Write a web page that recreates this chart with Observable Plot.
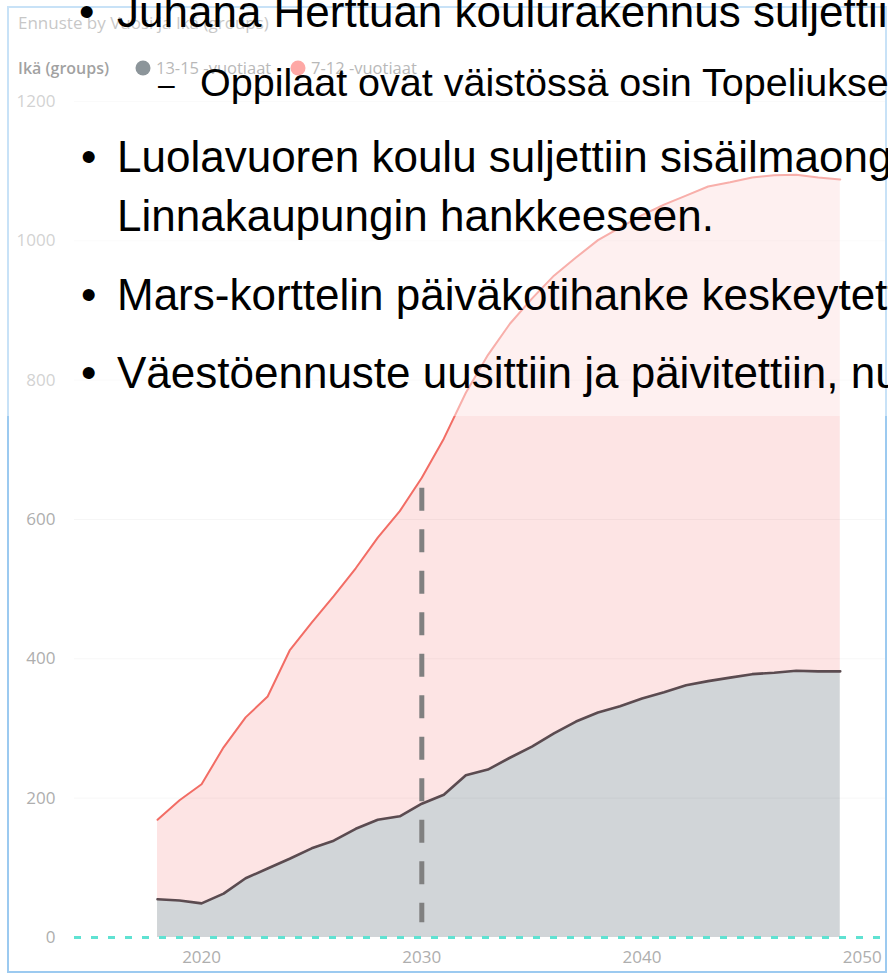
<!DOCTYPE html>
<html>
<head>
<meta charset="utf-8">
<script src="https://cdn.jsdelivr.net/npm/d3@7"></script>
<script src="https://cdn.jsdelivr.net/npm/@observablehq/plot@0.6"></script>
<style>
  html, body { margin: 0; padding: 0; background: #fff; }
  body { width: 888px; height: 976px; overflow: hidden; position: relative; }
  #chart { position: absolute; left: 0; top: 0; }
  #chart svg text { fill: #aeaeae; }
  #overlay { position: absolute; left: 0; top: 0; pointer-events: none; }
  .pbi { font-family: "Open Sans", "Segoe UI", sans-serif; }
  .slide { font-family: "Liberation Sans", Arial, sans-serif; fill: #000; }
</style>
</head>
<body>
<div id="chart"></div>
<svg id="overlay" width="888" height="976" viewBox="0 0 888 976">
  <rect x="8" y="7" width="878" height="965" fill="none" stroke="#9ccaf0" stroke-width="2"></rect>
  <text class="pbi" x="18" y="29" font-size="17" fill="#9a9a9a">Ennuste by Vuosi ja Ikä (groups)</text>
  <text class="pbi" x="18" y="74" font-size="16" font-weight="600" fill="#555">Ikä (groups)</text>
  <circle cx="143" cy="68" r="7.5" fill="#2e3e47"></circle>
  <text class="pbi" x="156" y="74" font-size="16.5" fill="#7e7e7e">13-15 -vuotiaat</text>
  <circle cx="298" cy="68" r="7.5" fill="#fd615b"></circle>
  <text class="pbi" x="311" y="74" font-size="16.5" fill="#7e7e7e">7-12 -vuotiaat</text>
  <rect x="0" y="0" width="888" height="416" fill="#fff" fill-opacity="0.45"></rect>
  <g class="slide">
    <text x="79" y="27" font-size="44">•</text>
    <text x="117" y="27" font-size="44">Juhana Herttuan koulurakennus suljettiin</text>
    <text x="158" y="95" font-size="30">–</text>
    <text x="200" y="96" font-size="39.5">Oppilaat ovat väistössä osin Topeliuksen</text>
    <text x="81" y="172" font-size="44">•</text>
    <text x="117" y="172" font-size="44">Luolavuoren koulu suljettiin sisäilmaongelmien</text>
    <text x="117" y="231" font-size="44">Linnakaupungin hankkeeseen.</text>
    <text x="81" y="310" font-size="44">•</text>
    <text x="117" y="310" font-size="44">Mars-korttelin päiväkotihanke keskeytettiin</text>
    <text x="81" y="388" font-size="44">•</text>
    <text x="117" y="388" font-size="44">Väestöennuste uusittiin ja päivitettiin, nu</text>
  </g>
</svg>
<script>
// ---- data ----
const years = [2018, 2019, 2020, 2021, 2022, 2023, 2024, 2025, 2026, 2027, 2028, 2029, 2030, 2031, 2032, 2033,
               2034, 2035, 2036, 2037, 2038, 2039, 2040, 2041, 2042, 2043, 2044, 2045, 2046, 2047, 2048, 2049];
// 13-15 -vuotiaat (bottom series)
const age13_15 = [55, 53, 49, 63, 85, 99, 113, 128, 139, 156, 169, 174, 192, 205, 233, 241,
                  258, 274, 293, 310, 323, 332, 343, 352, 362, 368, 373, 378, 380, 383, 382, 382];
// 7-12 -vuotiaat (stacked on top)
const age7_12 = [114, 144, 171, 210, 231, 247, 299, 324, 351, 374, 405, 438, 468, 511, 549, 595,
                 623, 643, 657, 666, 678, 687, 694, 700, 703, 710, 711, 713, 714, 712, 709, 706];
const groups = ["13-15 -vuotiaat", "7-12 -vuotiaat"];
const yTicks = [0, 200, 400, 600, 800, 1000, 1200];
const xTicks = [2020, 2030, 2040, 2050];
const markerYear = [2030];          // dashed vertical marker
const markerSpan = [21, 645];       // its extent in y units
const baseline = [0];               // dotted zero line

const table = years.map((year, i) => ({year, g: age13_15[i], p: age7_12[i]}));

const chart = Plot.plot({
  width: 888,
  height: 976,
  marginLeft: 74,
  marginRight: 2,
  marginTop: 101,
  marginBottom: 39,
  style: {background: "transparent", fontFamily: "'Open Sans', 'Segoe UI', sans-serif", fontSize: "17px", overflow: "visible"},
  x: {domain: [2014.23, 2051.1], ticks: xTicks, tickFormat: d => String(d), tickSize: 0, tickPadding: 13, label: null},
  y: {domain: [0, 1200], ticks: yTicks, tickFormat: d => String(d), tickSize: 0, tickPadding: 19, label: null},
  marks: [
    Plot.areaY(table, {x: "year", y1: d => d.g, y2: d => d.g + d.p, fill: "#fde4e4"}),
    Plot.areaY(table, {x: "year", y: "g", fill: "#d1d5d8"}),
    Plot.gridY(yTicks.slice(1), {stroke: "#000", strokeOpacity: 0.035}),
    Plot.lineY(table, {x: "year", y: d => d.g + d.p, stroke: "#f26d65", strokeWidth: 2}),
    Plot.lineY(table, {x: "year", y: "g", stroke: "#5b4b50", strokeWidth: 2.6}),
    Plot.ruleY(baseline, {stroke: "#5fe2d2", strokeWidth: 3, strokeDasharray: "7,10"}),
    Plot.ruleX(markerYear, {y1: () => markerSpan[1], y2: () => markerSpan[0], stroke: "#808080", strokeWidth: 5, strokeDasharray: "23,18.5"})
  ]
});
document.getElementById("chart").appendChild(chart);
</script>
</body>
</html>
